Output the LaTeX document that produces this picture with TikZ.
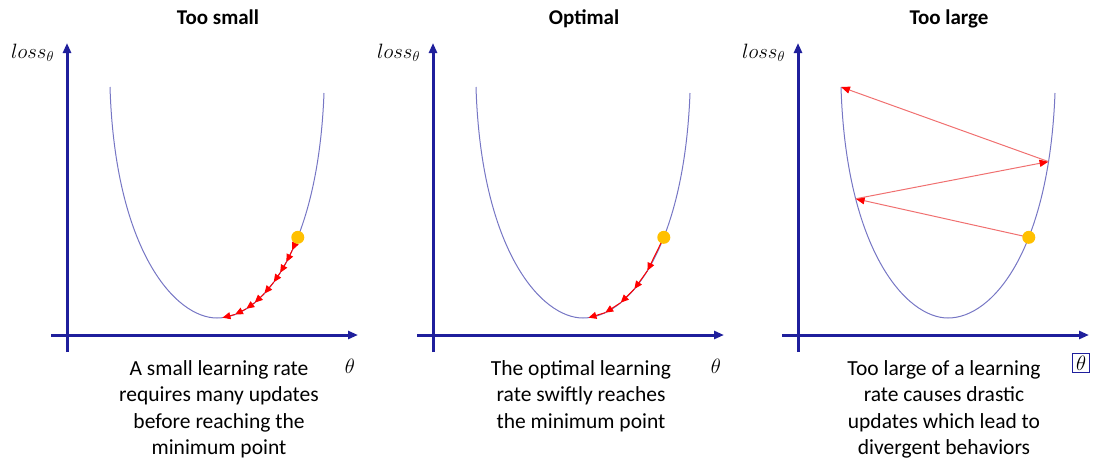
\documentclass[tikz,border=0pt]{standalone}
\usepackage{fontspec}
\setmainfont{Carlito}
\usepackage{tikz}
\usetikzlibrary{arrows.meta}
\definecolor{axisblue}{HTML}{1F1F9C}
\definecolor{bowlline}{HTML}{7676C4}
\definecolor{dotfill}{HTML}{FFC000}
\definecolor{jump}{HTML}{F07070}

\begin{document}
\begin{tikzpicture}[x=1pt,y=-1pt,
  ttl/.style={font=\fontsize{21}{25}\selectfont\bfseries,anchor=base,inner sep=0pt},
  note/.style={font=\fontsize{21.5}{26.5}\selectfont,align=center,anchor=north,inner sep=0pt},
  ylbl/.style={font=\fontsize{22}{26}\selectfont,anchor=base west,inner sep=0pt},
  xlbl/.style={font=\fontsize{22}{26}\selectfont,inner xsep=3.5pt,inner ysep=2.5pt},
  axis/.style={-{Triangle[length=10pt,width=8pt]},line width=3pt,draw=axisblue},
  bowl/.style={draw=bowlline,line width=1pt},
  dot/.style={circle,fill=dotfill,minimum size=13pt,inner sep=0pt},
  stepar/.style={-{Triangle[length=8pt,width=7pt]},draw=red,line width=1pt},
  jumpar/.style={-{Triangle[length=9pt,width=7pt,color=red]},draw=jump,line width=1pt}]
  \useasboundingbox (0,0) rectangle (1094,461);

  % too small
  \begin{scope}
    \node[ttl] (t1) at (218,24) {Too small};
    \coordinate (ya1) at (67,352); \coordinate (yz1) at (67,43);
    \coordinate (xa1) at (51,335); \coordinate (xz1) at (358,335);
    \draw[axis] (ya1) -- (yz1);
    \draw[axis] (xa1) -- (xz1);
    \node[ylbl] (yl1) at (11,58) {$loss_\theta$};
    \node[xlbl] (xl1) at (350,366) {$\theta$};
    \coordinate (l1) at (110,87); \coordinate (m1) at (217,318); \coordinate (r1) at (324,93);
    \draw[bowl] (l1) .. controls (115,250) and (175,318) .. (m1)
      .. controls (262,318) and (318,250) .. (r1)
      coordinate[pos=0.61] (d1) coordinate[pos=0.56] (s1a) coordinate[pos=0.51] (s1b)
      coordinate[pos=0.46] (s1c) coordinate[pos=0.41] (s1d) coordinate[pos=0.34] (s1e)
      coordinate[pos=0.27] (s1f) coordinate[pos=0.21] (s1g) coordinate[pos=0.13] (s1h)
      coordinate[pos=0.04] (s1i);
    \draw[stepar] (d1) -- (s1a);
    \draw[stepar] (s1a) -- (s1b);
    \draw[stepar] (s1b) -- (s1c);
    \draw[stepar] (s1c) -- (s1d);
    \draw[stepar] (s1d) -- (s1e);
    \draw[stepar] (s1e) -- (s1f);
    \draw[stepar] (s1f) -- (s1g);
    \draw[stepar] (s1g) -- (s1h);
    \draw[stepar] (s1h) -- (s1i);
    \node[dot] (p1) at (d1) {};
    \node[note] (n1) at (219,360) {A small learning rate\\requires many updates\\before reaching the\\minimum point};
  \end{scope}

  % optimal
  \begin{scope}[shift={(366,0)}]
    \node[ttl] (t2) at (218,24) {Optimal};
    \coordinate (ya2) at (67,352); \coordinate (yz2) at (67,43);
    \coordinate (xa2) at (51,335); \coordinate (xz2) at (358,335);
    \draw[axis] (ya2) -- (yz2);
    \draw[axis] (xa2) -- (xz2);
    \node[ylbl] (yl2) at (11,58) {$loss_\theta$};
    \node[xlbl] (xl2) at (350,366) {$\theta$};
    \coordinate (l2) at (110,87); \coordinate (m2) at (217,318); \coordinate (r2) at (324,93);
    \draw[bowl] (l2) .. controls (115,250) and (175,318) .. (m2)
      .. controls (262,318) and (318,250) .. (r2)
      coordinate[pos=0.61] (d2) coordinate[pos=0.47] (s2a) coordinate[pos=0.37] (s2b)
      coordinate[pos=0.27] (s2c) coordinate[pos=0.16] (s2d) coordinate[pos=0.04] (s2e);
    \draw[stepar] (d2) -- (s2a);
    \draw[stepar] (s2a) -- (s2b);
    \draw[stepar] (s2b) -- (s2c);
    \draw[stepar] (s2c) -- (s2d);
    \draw[stepar] (s2d) -- (s2e);
    \node[dot] (p2) at (d2) {};
    \node[note] (n2) at (215,360) {The optimal learning\\rate swiftly reaches\\the minimum point};
  \end{scope}

  % too large
  \begin{scope}[shift={(731,0)}]
    \node[ttl] (t3) at (218,24) {Too large};
    \coordinate (ya3) at (67,352); \coordinate (yz3) at (67,43);
    \coordinate (xa3) at (51,335); \coordinate (xz3) at (358,335);
    \draw[axis] (ya3) -- (yz3);
    \draw[axis] (xa3) -- (xz3);
    \node[ylbl] (yl3) at (11,58) {$loss_\theta$};
    \node[xlbl,draw=axisblue,line width=1pt] (xl3) at (350,363) {$\theta$};
    \coordinate (l3) at (110,87); \coordinate (m3) at (217,318); \coordinate (r3) at (324,93);
    \draw[bowl] (l3) .. controls (115,250) and (175,318) .. (m3)
      coordinate[pos=0.27] (k3)
      .. controls (262,318) and (318,250) .. (r3)
      coordinate[pos=0.61] (d3) coordinate[pos=0.84] (h3);
    \draw[jumpar] (d3) -- (k3);
    \draw[jumpar] (k3) -- (h3);
    \draw[jumpar] (h3) -- (l3);
    \node[dot] (p3) at (d3) {};
    \node[note] (n3) at (213,360) {Too large of a learning\\rate causes drastic\\updates which lead to\\divergent behaviors};
  \end{scope}
\end{tikzpicture}
\end{document}
